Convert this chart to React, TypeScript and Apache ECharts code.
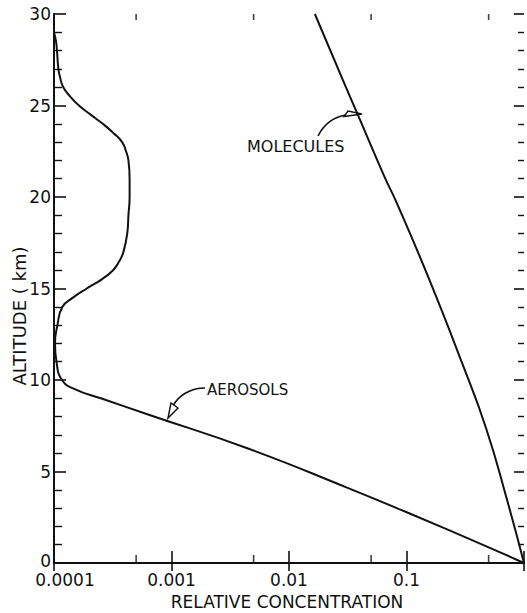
import React, { useEffect, useRef } from "react";
import * as echarts from "echarts";

const altAerosol = [0, 0.87, 2.73, 4.15, 6.23, 8.09, 9.0, 9.5, 10, 11, 12, 13, 14, 14.5, 15, 15.5, 16, 16.5, 17, 18, 19, 20, 21, 22, 22.5, 23, 23.5, 24, 24.5, 25, 25.5, 26, 26.5, 27, 28, 28.5, 29];
const concAerosol = [1.0, 0.495, 0.104, 0.0304, 0.0046, 0.00065, 0.00025, 0.00015, 0.000117, 0.000105, 0.000102, 0.000107, 0.000118, 0.000145, 0.00019, 0.000255, 0.000318, 0.00036, 0.00039, 0.00042, 0.00043, 0.00044, 0.00044, 0.00043, 0.00041, 0.00038, 0.00032, 0.00026, 0.000205, 0.000163, 0.000137, 0.00012, 0.000113, 0.000109, 0.000106, 0.000104, 0.0001];

const altMolecules = [0, 3.44, 7.38, 10.93, 15.46, 19.8, 21.1, 24.5, 26.4, 30];
const concMolecules = [1, 0.718, 0.475, 0.297, 0.157, 0.081, 0.065, 0.0385, 0.0287, 0.0166];

const xTickLabels: Record<number, string> = { [-4]: "0.0001", [-3]: "0.001", [-2]: "0.01", [-1]: "0.1", [0]: "" };
const xMinorTicks = [5e-4, 5e-3, 5e-2, 0.5];
const yMin = 0;
const yMax = 30;

const FONT = "DejaVu Sans";

export default function App() {
  const ref = useRef<HTMLDivElement>(null);
  useEffect(() => {
    if (!ref.current) return;
    const chart = echarts.init(ref.current, undefined, { renderer: "svg" });
    const black = "#111";
    const option: any = {
      animation: false,
      backgroundColor: "#fff",
      grid: { left: 54, right: 0, top: 14, bottom: 50 },
      xAxis: [
        {
          type: "log",
          logBase: 10,
          min: 1e-4,
          max: 1,
          position: "bottom",
          axisLine: { show: true, lineStyle: { color: black, width: 2 } },
          axisTick: { show: true, inside: true, length: 12, lineStyle: { color: black, width: 1.6 } },
          splitLine: { show: false },
          axisLabel: {
            color: black,
            fontFamily: FONT,
            fontSize: 17,
            lineHeight: 14,
            margin: 10,
            formatter: (v: number) => {
              const k = Math.round(Math.log10(v));
              const s = xTickLabels[k] ?? "";
              if (k === -4) return "{a|" + s + "}";
              return s;
            },
            rich: { a: { fontFamily: FONT, fontSize: 17, lineHeight: 14, color: black, padding: [0, 0, 0, 22] } },
          },
        },
        {
          type: "log",
          logBase: 10,
          min: 1e-4,
          max: 1,
          position: "top",
          axisLine: { show: true, lineStyle: { color: black, width: 2 } },
          axisTick: { show: true, inside: true, length: 8, lineStyle: { color: black, width: 1.6 } },
          splitLine: { show: false },
          axisLabel: { show: false },
        },
      ],
      yAxis: [
        {
          type: "value",
          min: yMin,
          max: yMax,
          interval: 5,
          position: "left",
          axisLine: { show: true, lineStyle: { color: black, width: 2 } },
          axisTick: { show: true, inside: true, length: 12, lineStyle: { color: black, width: 1.6 } },
          minorTick: { show: true, splitNumber: 5, length: 8, lineStyle: { color: black, width: 1.4 } },
          splitLine: { show: false },
          axisLabel: {
            color: black,
            fontFamily: FONT,
            fontSize: 17,
            lineHeight: 14,
            margin: 3,
            formatter: (v: number) => (v === yMin ? "{z|" + v + "}" : String(v)),
            rich: { z: { fontFamily: FONT, fontSize: 17, lineHeight: 14, color: black, padding: [0, 0, 4, 0] } },
          },
        },
        {
          type: "value",
          min: yMin,
          max: yMax,
          interval: 5,
          position: "right",
          axisLine: { show: false },
          axisTick: { show: true, inside: true, length: 10, lineStyle: { color: black, width: 1.6 } },
          minorTick: { show: true, splitNumber: 5, length: 6, lineStyle: { color: black, width: 1.4 } },
          splitLine: { show: false },
          axisLabel: { show: false },
        },
      ],
      series: [
        {
          name: "Aerosols",
          type: "line",
          xAxisIndex: 0,
          yAxisIndex: 0,
          data: altAerosol.map((h, i) => [concAerosol[i], h]),
          showSymbol: false,
          symbol: "none",
          smooth: 0.5,
          lineStyle: { color: black, width: 2 },
          silent: true,
          z: 3,
        },
        {
          name: "Molecules",
          type: "line",
          xAxisIndex: 0,
          yAxisIndex: 0,
          data: altMolecules.map((h, i) => [concMolecules[i], h]),
          showSymbol: false,
          symbol: "none",
          smooth: 0.5,
          lineStyle: { color: black, width: 2 },
          silent: true,
          z: 3,
        },
        {
          type: "scatter",
          xAxisIndex: 0,
          yAxisIndex: 0,
          data: xMinorTicks.map((v) => [v, yMin]),
          symbol: "rect",
          symbolSize: [1.6, 8],
          symbolOffset: [0, -4],
          itemStyle: { color: black },
          silent: true,
          z: 4,
        },
        {
          type: "scatter",
          xAxisIndex: 0,
          yAxisIndex: 0,
          data: xMinorTicks.map((v) => [v, yMax]),
          symbol: "rect",
          symbolSize: [1.6, 6],
          symbolOffset: [0, 3],
          itemStyle: { color: black },
          silent: true,
          z: 4,
        },
      ],
      graphic: [
        {
          type: "text",
          x: 19,
          y: 316,
          rotation: Math.PI / 2,
          style: { text: "ALTITUDE ( km)", fontFamily: FONT, fontSize: 18, fill: black, align: "center", verticalAlign: "middle" },
        },
        {
          type: "text",
          x: 287,
          y: 602,
          style: { text: "RELATIVE CONCENTRATION", fontFamily: FONT, fontSize: 17, fill: black, align: "center", verticalAlign: "middle" },
        },
        {
          type: "text",
          x: 247,
          y: 146,
          style: { text: "MOLECULES", fontFamily: FONT, fontSize: 16, fill: black, align: "left", verticalAlign: "middle" },
        },
        {
          type: "text",
          x: 207,
          y: 390,
          style: { text: "AEROSOLS", fontFamily: FONT, fontSize: 15, fill: black, align: "left", verticalAlign: "middle" },
        },
        {
          type: "bezierCurve",
          shape: { x1: 318, y1: 136, cpx1: 324, cpy1: 124, cpx2: 334, cpy2: 117, x2: 346, y2: 115 },
          style: { stroke: black, lineWidth: 1.6, fill: "none" },
        },
        {
          type: "polygon",
          shape: { points: [[362, 114], [344, 116.5], [348, 111]] },
          style: { stroke: black, lineWidth: 1.4, fill: "#fff" },
        },
        {
          type: "bezierCurve",
          shape: { x1: 205, y1: 388, cpx1: 190, cpy1: 388, cpx2: 178, cpy2: 396, x2: 173, y2: 406 },
          style: { stroke: black, lineWidth: 1.6, fill: "none" },
        },
        {
          type: "polygon",
          shape: { points: [[168, 418], [171, 403], [178, 408]] },
          style: { stroke: black, lineWidth: 1.4, fill: "#fff" },
        },
      ],
    };
    chart.setOption(option);
    return () => chart.dispose();
  }, []);
  return (
    <div
      ref={ref}
      style={{ position: "fixed", left: 0, top: 0, width: 527, height: 613, background: "#fff" }}
    />
  );
}
